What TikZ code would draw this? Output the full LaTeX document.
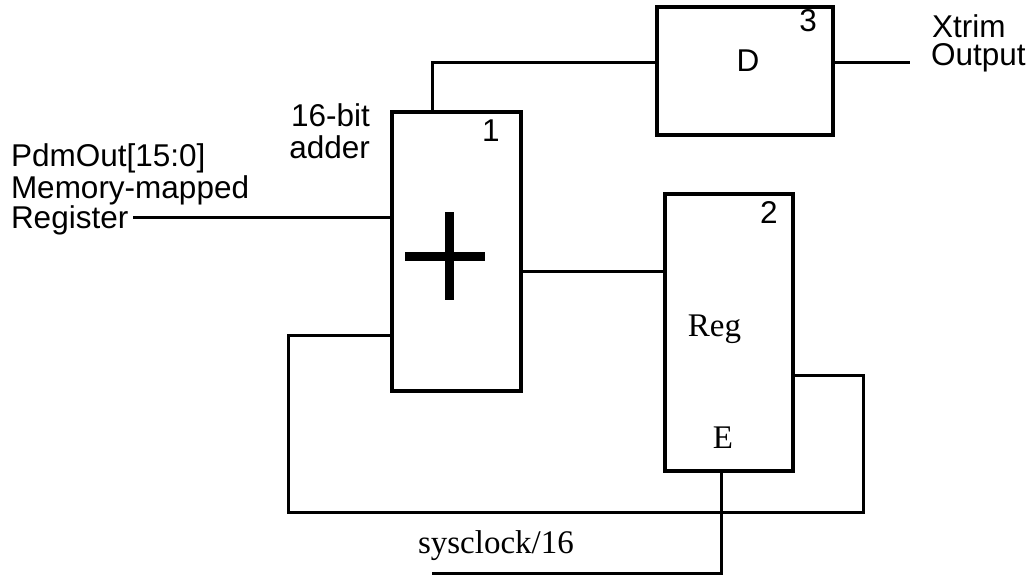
\documentclass[tikz,border=0pt]{standalone}
\usepackage{fontspec}
\setmainfont{Liberation Serif}
\newfontfamily\lsans{Liberation Sans}
\begin{document}
\begin{tikzpicture}[x=1pt,y=-1pt,
  blk/.style={draw, line width=3.2pt, inner sep=0pt, outer sep=0pt},
  wire/.style={line width=3pt},
  stxt/.style={font=\lsans\fontsize{31.5}{31.5}\selectfont, inner sep=0pt, outer sep=0pt},
  rtxt/.style={font=\fontsize{33}{33}\selectfont, inner sep=0pt, outer sep=0pt}]
\useasboundingbox (0,0) rectangle (1028,575);
% blocks
\node[blk, minimum width=129pt, minimum height=279pt] (add) at (456.5,251.5) {};
\node[blk, minimum width=176pt, minimum height=128pt] (dff) at (745,71) {};
\node[blk, minimum width=128pt, minimum height=277pt] (reg) at (729,332.5) {};
% plus sign
\draw[line width=9pt] (405,256) -- (485,256) (449.5,212) -- (449.5,300);
% connection points
\coordinate (atop) at (432,112);
\coordinate (din) at (657,63);
\coordinate (dout) at (833,63);
\coordinate (xend) at (910,63);
\coordinate (pdmend) at (133,217);
\coordinate (ain1) at (392,217);
\coordinate (aout) at (521,271);
\coordinate (rin) at (665,271);
\coordinate (rout) at (793,375);
\coordinate (fbr) at (863,512);
\coordinate (fbl) at (288,512);
\coordinate (ain2) at (392,335);
\coordinate (ren) at (721,471);
\coordinate (clkend) at (432,573);
% wires
\draw[wire] (atop) |- (din);
\draw[wire] (dout) -- (xend);
\draw[wire] (pdmend) -- (ain1);
\draw[wire] (aout) -- (rin);
\draw[wire] (rout) -| (fbr) -- (fbl) |- (ain2);
\draw[wire] (ren) |- (clkend);
% labels
\node[stxt, anchor=base west] (l1) at (11,167) {PdmOut[15:0]};
\node[stxt, anchor=base west] (l2) at (11,198) {Memory-mapped};
\node[stxt, anchor=base west] (l3) at (11,228) {Register};
\node[stxt, anchor=base east] (l4) at (370,127) {16-bit};
\node[stxt, anchor=base east] (l5) at (370,158) {adder};
\node[stxt, anchor=base west] (l6) at (932,38) {Xtrim};
\node[stxt, anchor=base west] (l7) at (931,66) {Output};
\node[stxt, anchor=base] (n1) at (491,142) {1};
\node[stxt, anchor=base] (n2) at (769,223) {2};
\node[stxt, anchor=base] (n3) at (808,32) {3};
\node[stxt, anchor=base] (dl) at (748,72) {D};
\node[rtxt, anchor=base] (rl) at (714.5,336) {Reg};
\node[rtxt, anchor=base] (el) at (723,448) {E};
\node[rtxt, anchor=base west] (cl) at (418,553) {sysclock/16};
\end{tikzpicture}
\end{document}
